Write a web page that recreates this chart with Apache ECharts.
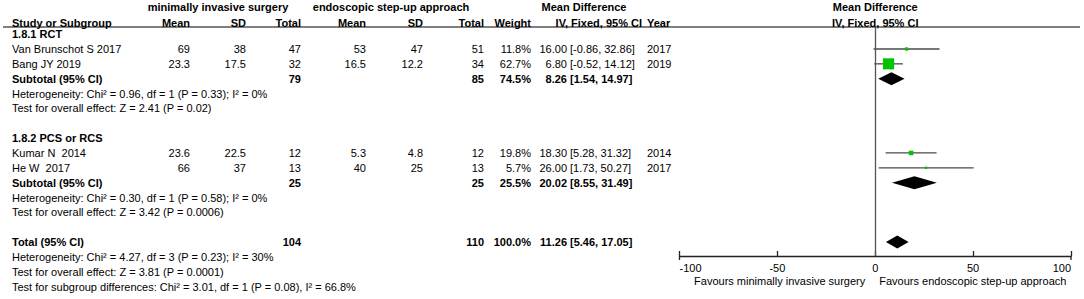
<!DOCTYPE html>
<html><head><meta charset="utf-8">
<script src="https://cdn.jsdelivr.net/npm/echarts@6/dist/echarts.min.js"></script>
<style>html,body{margin:0;padding:0;background:#fff}#c{width:1084px;height:299px}</style>
</head><body><div id="c"></div>
<script>
// ---------------- data ----------------
const groupNames = ['1.8.1 RCT', '1.8.2 PCS or RCS'];
const studies = ['Van Brunschot S 2017', 'Bang JY 2019', 'Kumar N  2014', 'He W  2017'];
const studyGroup = [0, 0, 1, 1];
const misMean = [69, 23.3, 23.6, 66];
const misSD = [38, 17.5, 22.5, 37];
const misN = [47, 32, 12, 13];
const esuMean = [53, 16.5, 5.3, 40];
const esuSD = [47, 12.2, 4.8, 25];
const esuN = [51, 34, 12, 13];
const weight = [11.8, 62.7, 19.8, 5.7];
const md = [16.00, 6.80, 18.30, 26.00];
const ciLow = [-0.86, -0.52, 5.28, 1.73];
const ciHigh = [32.86, 14.12, 31.32, 50.27];
const year = [2017, 2019, 2014, 2017];

const subMisN = [79, 25];
const subEsuN = [85, 25];
const subWeight = [74.5, 25.5];
const subMd = [8.26, 20.02];
const subLow = [1.54, 8.55];
const subHigh = [14.97, 31.49];
const subHet = ['Heterogeneity: Chi\u00B2 = 0.96, df = 1 (P = 0.33); I\u00B2 = 0%',
                'Heterogeneity: Chi\u00B2 = 0.30, df = 1 (P = 0.58); I\u00B2 = 0%'];
const subTest = ['Test for overall effect: Z = 2.41 (P = 0.02)',
                 'Test for overall effect: Z = 3.42 (P = 0.0006)'];

const totalMisN = 104, totalEsuN = 110, totalWeight = 100.0;
const totalMd = [11.26], totalLow = [5.46], totalHigh = [17.05];
const totalHet = 'Heterogeneity: Chi\u00B2 = 4.27, df = 3 (P = 0.23); I\u00B2 = 30%';
const totalTest = 'Test for overall effect: Z = 3.81 (P = 0.0001)';
const subgroupDiff = 'Test for subgroup differences: Chi\u00B2 = 3.01, df = 1 (P = 0.08), I\u00B2 = 66.8%';

const xTicks = [-100, -50, 0, 50, 100];
const favourLeft = 'Favours minimally invasive surgery';
const favourRight = 'Favours endoscopic step-up approach';
const armNames = ['minimally invasive surgery', 'endoscopic step-up approach'];

// ---------------- layout ----------------
const FONT = '"Liberation Sans", Arial, sans-serif';
const COL = {label: 12, misMean: 190, misSD: 246, misN: 301, esuMean: 366, esuSD: 423, esuN: 484,
             weight: 531, est: 567, ci: 570, ciHdr: 642, year: 647,
             arm1: 218, arm2: 391, mdHdr: 584};
const ROW_PX = 14.85, ROW0_PX = 49, ROW0 = 3, GRID_TOP = 27, AXIS_Y = 256;
const Y_MIN = ROW0 - (ROW0_PX - GRID_TOP) / ROW_PX;
const Y_MAX = ROW0 + (AXIS_Y - ROW0_PX) / ROW_PX;
const HDR1 = 0.17, HDR2 = 1.22;

// rows of the table
const rows = [];
let r = 2;
groupNames.forEach((g, gi) => {
  rows.push({row: r++, kind: 'group', gi});
  studies.forEach((s, si) => { if (studyGroup[si] === gi) rows.push({row: r++, kind: 'study', si}); });
  rows.push({row: r++, kind: 'subtotal', gi});
  rows.push({row: r++, kind: 'text', text: subHet[gi]});
  rows.push({row: r++, kind: 'text', text: subTest[gi]});
  r++;
});
rows.push({row: r++, kind: 'total'});
rows.push({row: r++, kind: 'text', text: totalHet});
rows.push({row: r++, kind: 'text', text: totalTest});
rows.push({row: r++, kind: 'text', text: subgroupDiff});
rows.push({row: HDR1, kind: 'hdr1'});
rows.push({row: HDR2, kind: 'hdr2'});

const rowOfStudy = {}, rowOfSub = {}; let rowOfTotal = 0;
rows.forEach(o => {
  if (o.kind === 'study') rowOfStudy[o.si] = o.row;
  if (o.kind === 'subtotal') rowOfSub[o.gi] = o.row;
  if (o.kind === 'total') rowOfTotal = o.row;
});

function T(x, y, s, align, bold) {
  return {type: 'text', x: x, y: y, silent: true,
    style: {text: s, fill: '#000', align: align, verticalAlign: 'middle',
      font: (bold ? 'bold ' : '') + '11px ' + FONT}};
}
const f1 = v => v.toFixed(1) + '%';
const f2 = v => v.toFixed(2);

function renderTable(params, api) {
  const o = rows[params.dataIndex];
  const y = api.coord([0, api.value(1)])[1];
  const c = [];
  if (o.kind === 'hdr1') {
    c.push(T(COL.arm1, y, armNames[0], 'center', true));
    c.push(T(COL.arm2, y, armNames[1], 'center', true));
    c.push(T(COL.mdHdr, y, 'Mean Difference', 'center', true));
    c.push(T(api.coord([0, 0])[0], y, 'Mean Difference', 'center', true));
  } else if (o.kind === 'hdr2') {
    c.push(T(COL.label, y, 'Study or Subgroup', 'left', true));
    c.push(T(COL.misMean, y, 'Mean', 'right', true));
    c.push(T(COL.misSD, y, 'SD', 'right', true));
    c.push(T(COL.misN, y, 'Total', 'right', true));
    c.push(T(COL.esuMean, y, 'Mean', 'right', true));
    c.push(T(COL.esuSD, y, 'SD', 'right', true));
    c.push(T(COL.esuN, y, 'Total', 'right', true));
    c.push(T(COL.weight, y, 'Weight', 'right', true));
    c.push(T(COL.ciHdr, y, 'IV, Fixed, 95% CI', 'right', true));
    c.push(T(COL.year, y, 'Year', 'left', true));
    c.push(T(api.coord([0, 0])[0], y, 'IV, Fixed, 95% CI', 'center', true));
  } else if (o.kind === 'group') {
    c.push(T(COL.label, y, groupNames[o.gi], 'left', true));
  } else if (o.kind === 'study') {
    const i = o.si;
    c.push(T(COL.label, y, studies[i], 'left', false));
    c.push(T(COL.misMean, y, String(misMean[i]), 'right', false));
    c.push(T(COL.misSD, y, String(misSD[i]), 'right', false));
    c.push(T(COL.misN, y, String(misN[i]), 'right', false));
    c.push(T(COL.esuMean, y, String(esuMean[i]), 'right', false));
    c.push(T(COL.esuSD, y, String(esuSD[i]), 'right', false));
    c.push(T(COL.esuN, y, String(esuN[i]), 'right', false));
    c.push(T(COL.weight, y, f1(weight[i]), 'right', false));
    c.push(T(COL.est, y, f2(md[i]), 'right', false));
    c.push(T(COL.ci, y, '[' + f2(ciLow[i]) + ', ' + f2(ciHigh[i]) + ']', 'left', false));
    c.push(T(COL.year, y, String(year[i]), 'left', false));
  } else if (o.kind === 'subtotal') {
    const g = o.gi;
    c.push(T(COL.label, y, 'Subtotal (95% CI)', 'left', true));
    c.push(T(COL.misN, y, String(subMisN[g]), 'right', true));
    c.push(T(COL.esuN, y, String(subEsuN[g]), 'right', true));
    c.push(T(COL.weight, y, f1(subWeight[g]), 'right', true));
    c.push(T(COL.est, y, f2(subMd[g]), 'right', true));
    c.push(T(COL.ci, y, '[' + f2(subLow[g]) + ', ' + f2(subHigh[g]) + ']', 'left', true));
  } else if (o.kind === 'total') {
    c.push(T(COL.label, y, 'Total (95% CI)', 'left', true));
    c.push(T(COL.misN, y, String(totalMisN), 'right', true));
    c.push(T(COL.esuN, y, String(totalEsuN), 'right', true));
    c.push(T(COL.weight, y, f1(totalWeight), 'right', true));
    c.push(T(COL.est, y, f2(totalMd[0]), 'right', true));
    c.push(T(COL.ci, y, '[' + f2(totalLow[0]) + ', ' + f2(totalHigh[0]) + ']', 'left', true));
  } else if (o.kind === 'text') {
    c.push(T(COL.label, y, o.text, 'left', false));
  }
  return {type: 'group', children: c};
}

const studyData = studies.map((s, i) => [md[i], rowOfStudy[i], ciLow[i], ciHigh[i], weight[i]]);
const diamondData = subMd.map((m, g) => [m, rowOfSub[g], subLow[g], subHigh[g]])
  .concat([[totalMd[0], rowOfTotal, totalLow[0], totalHigh[0]]]);

function renderStudy(params, api) {
  const rw = api.value(1);
  const p = api.coord([api.value(0), rw]);
  const l = api.coord([api.value(2), rw]);
  const h = api.coord([api.value(3), rw]);
  const side = 1.5 + api.value(4) * 0.153;
  return {type: 'group', children: [
    {type: 'line', shape: {x1: l[0], y1: l[1], x2: h[0], y2: h[1]}, style: {stroke: '#4a4a4a', lineWidth: 1.3}},
    {type: 'rect', shape: {x: p[0] - side / 2, y: p[1] - side / 2, width: side, height: side}, style: {fill: '#00c400'}}
  ]};
}
function renderDiamond(params, api) {
  const rw = api.value(1);
  const p = api.coord([api.value(0), rw]);
  const l = api.coord([api.value(2), rw]);
  const h = api.coord([api.value(3), rw]);
  const hh = 6.5;
  return {type: 'polygon', shape: {points: [[l[0], l[1]], [p[0], p[1] - hh], [h[0], h[1]], [p[0], p[1] + hh]]},
    style: {fill: '#000'}};
}
function renderAxisExtra(params, api) {
  const z = api.coord([0, Y_MAX]);
  const a = api.coord([xTicks[0], Y_MAX]);
  const b = api.coord([xTicks[xTicks.length - 1], Y_MAX]);
  return {type: 'group', children: [
    {type: 'line', shape: {x1: a[0], y1: a[1], x2: a[0], y2: a[1] + 4}, style: {stroke: '#222', lineWidth: 1.3}},
    {type: 'line', shape: {x1: b[0], y1: b[1], x2: b[0], y2: b[1] + 4}, style: {stroke: '#222', lineWidth: 1.3}},
    T(z[0] - 10, z[1] + 25, favourLeft, 'right', false),
    T(z[0] + 4, z[1] + 25, favourRight, 'left', false)
  ]};
}

const chart = echarts.init(document.getElementById('c'), null, {renderer: 'svg'});
chart.setOption({
  animation: false,
  backgroundColor: '#fff',
  grid: {left: 679.5, right: 13, top: GRID_TOP, bottom: 299 - AXIS_Y, containLabel: false, outerBoundsMode: 'none'},
  xAxis: {type: 'value', min: xTicks[0], max: xTicks[xTicks.length - 1], interval: 50,
    axisLine: {show: true, onZero: false, lineStyle: {color: '#222', width: 1.3}},
    axisTick: {show: true, inside: true, length: 5, lineStyle: {color: '#222', width: 1.3}},
    axisLabel: {color: '#000', fontSize: 11, fontFamily: FONT, margin: 6,
      alignMinLabel: 'left', alignMaxLabel: 'right', formatter: v => String(v)},
    splitLine: {show: false}},
  yAxis: {type: 'value', inverse: true, min: Y_MIN, max: Y_MAX, show: false},
  graphic: [{type: 'line', shape: {x1: 3, y1: GRID_TOP, x2: 1080, y2: GRID_TOP}, style: {stroke: '#555', lineWidth: 1.3}}],
  series: [
    {type: 'custom', name: 'table', renderItem: renderTable, clip: false, silent: true,
     data: rows.map(o => [0, o.row])},
    {type: 'custom', name: 'studies', renderItem: renderStudy, clip: false, silent: true, data: studyData,
     markLine: {silent: true, symbol: 'none', label: {show: false},
       lineStyle: {color: '#555', width: 1.3, type: 'solid'}, data: [{xAxis: 0}]}},
    {type: 'custom', name: 'diamonds', renderItem: renderDiamond, clip: false, silent: true, data: diamondData},
    {type: 'custom', name: 'axisExtra', renderItem: renderAxisExtra, clip: false, silent: true, data: [[0, Y_MAX]]}
  ]
});
</script>
</body></html>
